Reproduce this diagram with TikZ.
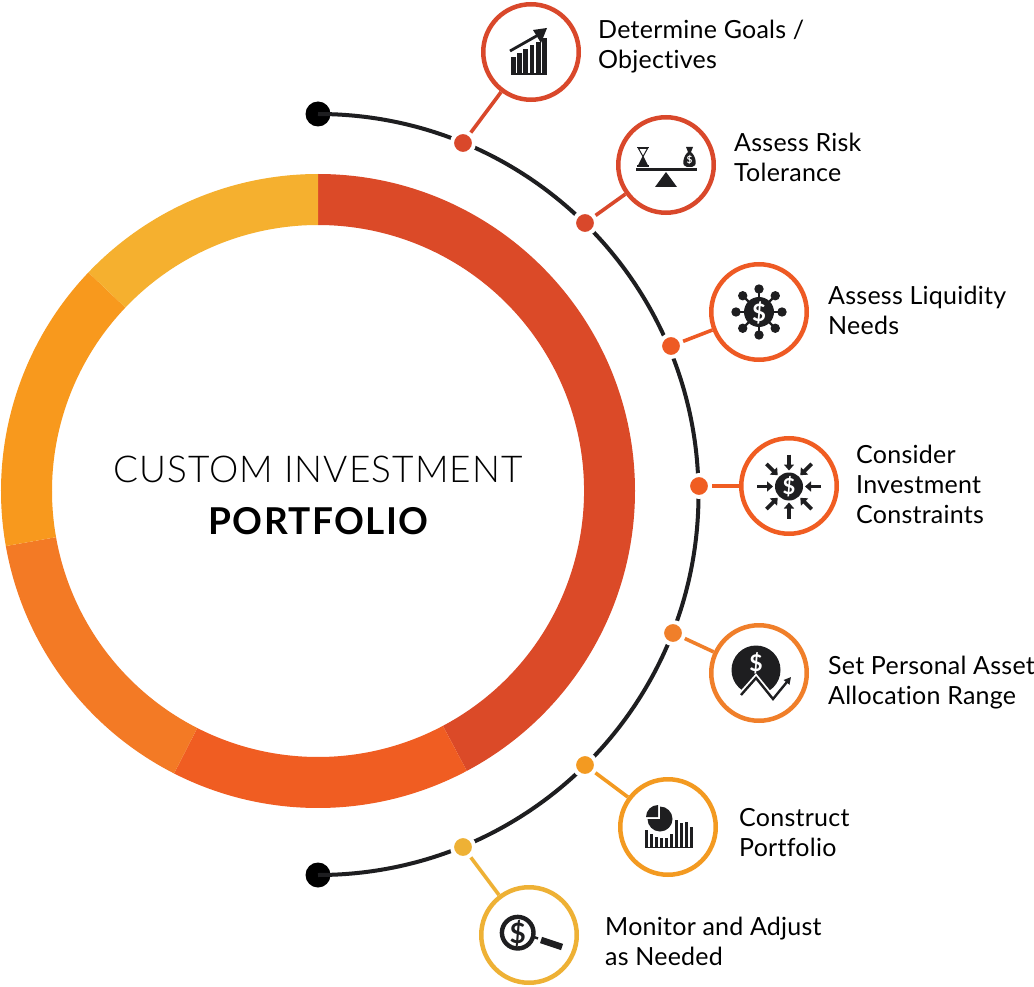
\documentclass[tikz,border=0pt]{standalone}
\usepackage{fontspec}
\setmainfont{Lato}[Ligatures=NoCommon]
\newfontfamily\lightfont{Lato Light}[LetterSpace=2.8,Ligatures=NoCommon]
\newfontfamily\tagfont{Lato}[LetterSpace=1.0,Ligatures=NoCommon]
\newfontfamily\headfont{Lato}[LetterSpace=3.8,Ligatures=NoCommon]
\usetikzlibrary{arrows.meta}
\definecolor{ca}{HTML}{D9482B}
\definecolor{cb}{HTML}{DB4A28}
\definecolor{cc}{HTML}{EE5A24}
\definecolor{cd}{HTML}{F05D22}
\definecolor{ce}{HTML}{F07F2A}
\definecolor{cf}{HTML}{F39A21}
\definecolor{cg}{HTML}{EEB135}
\definecolor{rc}{HTML}{F37A25}
\definecolor{rd}{HTML}{F8991D}
\definecolor{re}{HTML}{F5B02F}
\definecolor{ink}{HTML}{1E1E20}
\tikzset{
  x=1pt,y=-1pt,
  badge/.style={circle,draw=#1,fill=white,line width=4.5pt,minimum size=95.5pt,inner sep=0pt},
  knob/.style={circle,fill=#1,draw=white,line width=4pt,minimum size=22pt,inner sep=0pt},
  link/.style={draw=#1,line width=3.6pt},
  endcap/.style={circle,fill=black,minimum size=25pt,inner sep=0pt},
  tag/.style={anchor=west,align=left,font=\tagfont\fontsize{25}{30}\selectfont,inner sep=0pt,text=black},
  money/.style={text=white,font=\bfseries\fontsize{#1}{#1}\selectfont,inner sep=0pt},
  inkline/.style={draw=ink,line width=#1},
}
\newcommand{\ringseg}[3]{%
  \fill[fill=#3,shift={(318,491)}] (#1:317) arc[start angle=#1,end angle=#2,radius=317] -- (#2:266) arc[start angle=#2,end angle=#1,radius=266] -- cycle;}
\begin{document}
\begin{tikzpicture}
\useasboundingbox (0,0) rectangle (1034,987);
\fill[white] (0,0) rectangle (1034,987);
% ring
\ringseg{-90}{62}{cb}
\ringseg{62}{117}{cd}
\ringseg{117}{170}{rc}
\ringseg{170}{223.6}{rd}
\ringseg{223.6}{270}{re}
\node[font=\lightfont\fontsize{37}{37}\selectfont,inner sep=0pt,anchor=base] (title) at (318,482) {CUSTOM INVESTMENT};
\node[font=\headfont\bfseries\fontsize{37}{37}\selectfont,inner sep=0pt,anchor=base] (subtitle) at (318.5,534) {PORTFOLIO};
% timeline
\node[endcap] (top) at (318,114) {};
\node[endcap] (bot) at (318,875) {};
\draw[draw=ink,line width=4pt] (top.center) arc[start angle=-90,end angle=90,radius=380.5];
% badges
\node[badge=ca] (b1) at (531,52) {};
\node[badge=ca] (b2) at (666,165) {};
\node[badge=cc] (b3) at (759,312) {};
\node[badge=cd] (b4) at (789,486) {};
\node[badge=ce] (b5) at (759,673) {};
\node[badge=cf] (b6) at (668,827) {};
\node[badge=cg] (b7) at (529,935) {};
% knobs
\node[knob=ca] (k1) at (463,143) {};
\node[knob=ca] (k2) at (585,223) {};
\node[knob=cc] (k3) at (671,346) {};
\node[knob=cd] (k4) at (699,486) {};
\node[knob=ce] (k5) at (673,633) {};
\node[knob=cf] (k6) at (585,765) {};
\node[knob=cg] (k7) at (463,847) {};
% links
\draw[link=ca] (k1) -- (b1);
\draw[link=ca] (k2) -- (b2);
\draw[link=cc] (k3) -- (b3);
\draw[link=cd] (k4) -- (b4);
\draw[link=ce] (k5) -- (b5);
\draw[link=cf] (k6) -- (b6);
\draw[link=cg] (k7) -- (b7);
% labels
\node[tag] (t1) at (598,47) {Determine Goals /\\Objectives};
\node[tag] (t2) at (734,157) {Assess Risk\\Tolerance};
\node[tag] (t3) at (828,310) {Assess Liquidity\\Needs};
\node[tag] (t4) at (856,484) {Consider\\Investment\\Constraints};
\node[tag] (t5) at (828,683) {Set Personal Asset\\Allocation Range};
\node[tag] (t6) at (739,833) {Construct\\Portfolio};
\node[tag] (t7) at (605,941) {Monitor and Adjust\\as Needed};
% icon 1: rising bars
\foreach \xx/\yy in {511/57,517.2/53,523.4/49,529.6/45,535.8/42.5,542/38.5}{
  \fill[ink] (\xx,\yy) rectangle ++(4.8,75-\yy);}
\fill[ink] (511,73.5) rectangle (547,75);
\draw[inkline=2.8pt] (510,51) -- (540,34);
\fill[ink] (547,28) -- (533,30) -- (541,43) -- cycle;
% icon 2: balance
\fill[ink] (636,168) rectangle (697,171);
\fill[ink] (666,172) -- (655,187) -- (677,187) -- cycle;
\fill[ink] (637,147) rectangle (649,148.5);
\fill[ink] (637,165.5) rectangle (649,167);
\draw[ink,line width=1pt,fill=white] (638.5,148.5) -- (647.5,148.5) -- (643,156.5) -- cycle;
\draw[ink,line width=1pt,fill=ink] (638.5,165.5) -- (647.5,165.5) -- (643,156.5) -- cycle;
\fill[ink] (686,147) -- (693,147) -- (691,152) .. controls (696,156) and (698,167) .. (692,167) -- (687,167) .. controls (681,167) and (683,156) .. (688,152) -- cycle;
\node[money=10] (s2) at (689.5,160) {\$};
% icon 3: network
\foreach \ang in {0,45,...,315}{
  \draw[inkline=2.4pt] (759,312) -- ++(\ang:22);
  \fill[ink] (759,312) ++(\ang:23) circle (4.7);}
\fill[ink] (759,312) circle (15);
\node[money=24] (s3) at (759,313) {\$};
% icon 4: inward arrows
\foreach \ang in {0,45,...,315}{
  \draw[inkline=3.8pt,-{Triangle[length=6pt,width=10pt]}] (789,486.5) ++(\ang:32) -- ++(\ang:-16);}
\fill[ink] (789,486.5) circle (14);
\node[money=22] (s4) at (789,487) {\$};
% icon 5: dollar dome with zigzag
\fill[ink] (756,670) circle (24.5);
\fill[white] (736,690) -- (742,694) -- (756,678) -- (773,699) -- (782,689) -- (782,700) -- (736,700) -- cycle;
\draw[white,line width=6pt] (740,696) -- (756,678) -- (773,699) -- (786,684);
\draw[inkline=2.4pt,-{Triangle[length=7pt,width=7pt]}] (741,695) -- (756,678) -- (773,699) -- (791,677);
\node[money=23] (s5) at (756,663) {\$};
% icon 6: pie and bars
\foreach \xx/\yy in {645/830,650/834,655/837,660/838,665/838,670/834,675/820,680/823,685/822,690/827}{
  \fill[ink] (\xx,\yy) rectangle ++(3.3,848-\yy);}
\fill[ink] (645,846.5) rectangle (693,848);
\fill[white] (660,819) circle (15);
\fill[ink] (660,819) -- (660,806.5) arc[start angle=-90,end angle=180,radius=12.5] -- cycle;
\fill[ink] (658,817) -- (646,817) arc[start angle=180,end angle=270,radius=12] -- cycle;
% icon 7: magnifier
\draw[inkline=4.4pt,fill=white] (517.7,932.7) circle (15.8);
\node[text=ink,inner sep=0pt,font=\bfseries\fontsize{28}{28}\selectfont] (s7) at (517.7,933.2) {\$};
\draw[inkline=2.4pt] (534,937) -- (538,938.5);
\draw[inkline=6.5pt] (541,940) -- (562,947);
\end{tikzpicture}
\end{document}
